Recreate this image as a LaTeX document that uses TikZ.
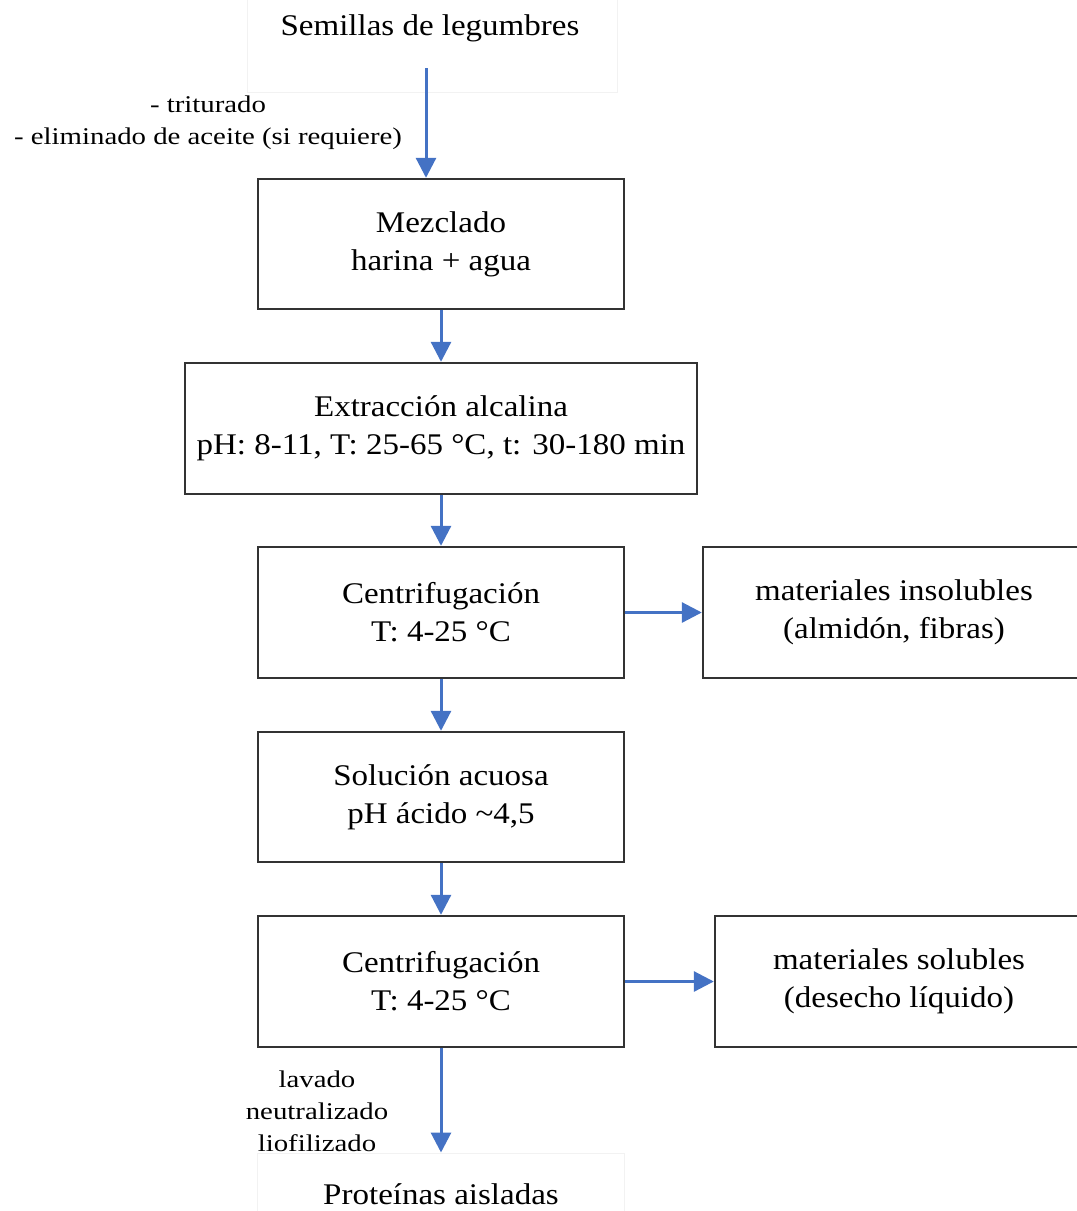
\documentclass[tikz,border=0pt]{standalone}
\usepackage{fontspec}
\setmainfont{Liberation Serif}
\newfontfamily\mainfam[FakeStretch=1.1]{Liberation Serif}
\newfontfamily\smallfam[FakeStretch=1.2]{Liberation Serif}
\usetikzlibrary{arrows.meta}
\newcommand{\mainfs}{\mainfam\fontsize{30}{38}\selectfont}
\newcommand{\smallfs}{\smallfam\fontsize{24}{32}\selectfont}
\definecolor{arrblue}{HTML}{4472C4}
\definecolor{boxgray}{HTML}{333333}
\definecolor{faint}{HTML}{F2F2F2}
\begin{document}
\begin{tikzpicture}[x=1pt,y=-1pt,
  box/.style={draw=boxgray, line width=2.4pt, minimum height=131pt, align=center, font=\mainfs, inner sep=0pt},
  ghost/.style={draw=faint, line width=1pt, align=center, font=\mainfs, inner sep=0pt},
  lbl/.style={align=center, font=\smallfs, inner sep=0pt},
  arr/.style={draw=arrblue, line width=3pt, -{Triangle[length=20pt,width=20pt]}}
]
\useasboundingbox (0,0) rectangle (1077,1211);
\clip (0,0) rectangle (1077,1211);
% top and bottom (faint frames)
\node[ghost, minimum width=370pt, minimum height=100pt] (top) at (432,42) {};
\node[font=\mainfs, inner sep=0pt] (toptxt) at (430,28) {Semillas de legumbres};
\node[ghost, minimum width=367pt, minimum height=80pt] (prot) at (441,1193) {};
\node[font=\mainfs, inner sep=0pt] (prottxt) at (441,1194) {Proteínas aisladas};
% main boxes
\node[box, minimum width=366pt, minimum height=130pt] (mez) at (441,244) {Mezclado\\harina + agua};
\node[box, minimum width=512pt] (ext) at (441,428.5) {Extracción alcalina\\pH: 8-11, T: 25-65 °C, t: 30-180 min};
\node[box, minimum width=366pt] (c1) at (441,612.5) {Centrifugación\\T: 4-25 °C};
\node[box, minimum width=382pt] (ins) at (894,612.5) {materiales insolubles\\(almidón, fibras)};
\node[box, minimum width=366pt, minimum height=130pt] (sol) at (441,797) {Solución acuosa\\pH ácido \textasciitilde4,5};
\node[box, minimum width=366pt] (c2) at (441,981.5) {Centrifugación\\T: 4-25 °C};
\node[box, minimum width=368pt] (solu) at (899,981.5) {materiales solubles\\(desecho líquido)};
% labels
\node[lbl] (l1) at (208,123) {- triturado\\- eliminado de aceite (si requiere)};
\node[lbl] (l2) at (317,1111) {lavado\\neutralizado\\liofilizado};
% arrows
\coordinate (a0) at (426,68);
\draw[arr] (a0) -- (a0 |- mez.north);
\draw[arr] (mez.south) -- (ext.north);
\draw[arr] (ext.south) -- (c1.north);
\draw[arr] (c1.east) -- (ins.west);
\draw[arr] (c1.south) -- (sol.north);
\draw[arr] (sol.south) -- (c2.north);
\draw[arr] (c2.east) -- (solu.west);
\draw[arr] (c2.south) -- (prot.north);
\end{tikzpicture}
\end{document}
